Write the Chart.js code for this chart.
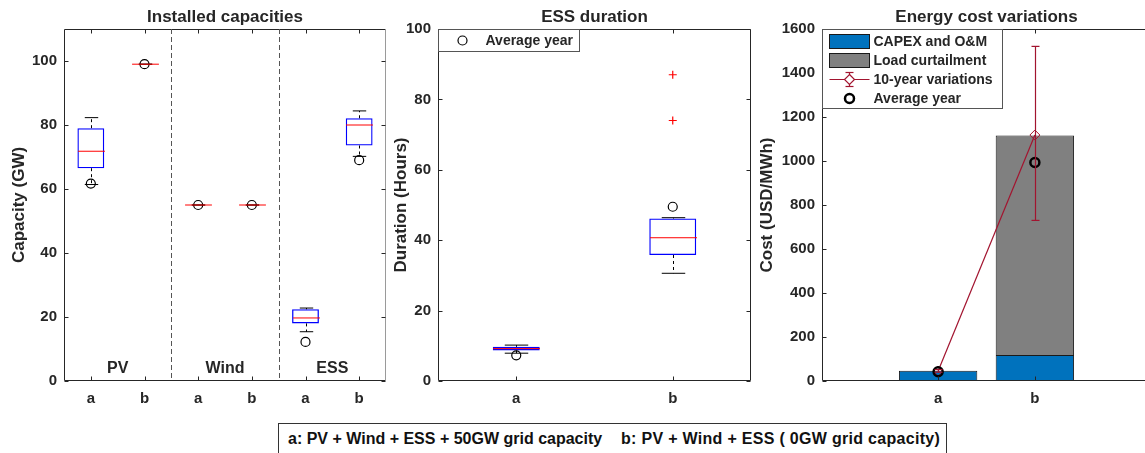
<!DOCTYPE html>
<html>
<head>
<meta charset="utf-8">
<script src="https://cdn.jsdelivr.net/npm/chart.js@4.4.0/dist/chart.umd.min.js"></script>
<style>
  html, body { margin: 0; padding: 0; background: #fff; overflow: hidden; }
  body { width: 1145px; height: 453px; position: relative; }
  canvas { position: absolute; top: 0; }
  #c1 { left: 0; }
  #c2 { left: 385px; }
  #c3 { left: 755px; }
  .note { position: absolute; left: 278px; top: 423px; width: 667px; height: 40px;
          border: 1px solid #333; font: bold 16px 'Liberation Sans', Arial, sans-serif; color: #111; }
  .note span { position: absolute; top: 6px; line-height: 18px; white-space: nowrap; }
</style>
</head>
<body>
<canvas id="c1" width="400" height="420"></canvas>
<canvas id="c2" width="380" height="420"></canvas>
<canvas id="c3" width="405" height="420"></canvas>
<div class="note"><span style="left:9px">a: PV + Wind + ESS + 50GW grid capacity</span><span style="left:342px; letter-spacing:0.3px">b: PV + Wind + ESS ( 0GW grid capacity)</span></div>
<script>
const TXT = '#262626';
const FONT = "'Liberation Sans', Arial, Helvetica, sans-serif";

// installed capacities (GW), one box per case
const capLabels = ['a', 'b', 'a', 'b', 'a', 'b'];
const capGroups = ['PV', 'Wind', 'ESS'];
const capLow = [61.4, 99, 55, 55, 15.4, 70.2];
const capQ1 = [66.5, 99, 55, 55, 18.0, 73.6];
const capMedian = [71.8, 99, 55, 55, 19.7, 80.0];
const capQ3 = [79.0, 99, 55, 55, 22.4, 82.1];
const capHigh = [82.3, 99, 55, 55, 22.8, 84.4];
const capAverage = [61.7, 99, 55, 55, 12.2, 69.0];

// ESS duration (hours)
const durLabels = ['a', 'b'];
const durLow = [7.9, 30.6];
const durQ1 = [8.7, 35.8];
const durMedian = [9.2, 40.7];
const durQ3 = [9.7, 46.2];
const durHigh = [10.2, 46.4];
const durOutliers = [[], [74, 87]];
const durAverage = [7.3, 49.5];

// energy cost (USD/MWh)
const costLabels = ['a', 'b'];
const costCapex = [47, 118];
const costCurtail = [0, 998];
const costVar = [45, 1118];
const costVarLow = [40, 730];
const costVarHigh = [52, 1521];
const costAverage = [42, 993];

Chart.defaults.font.family = FONT;
Chart.defaults.font.weight = 'bold';
Chart.defaults.font.size = 15;
Chart.defaults.color = TXT;
Chart.defaults.animation = false;
Chart.defaults.responsive = false;
Chart.defaults.plugins.legend.display = false;
Chart.defaults.plugins.tooltip.enabled = false;

function seg(ctx, x1, y1, x2, y2) {
    ctx.beginPath();
    ctx.moveTo(x1, y1);
    ctx.lineTo(x2, y2);
    ctx.stroke();
}

// value axis shared by the three panels
function yAxis(max, step, title, width, titlePad) {
    return {
        min: 0, max: max,
        grid: { display: false, drawTicks: false },
        border: { display: false },
        ticks: {
            stepSize: step, padding: 7, includeBounds: false, font: { size: 15 },
            callback: function(v) { return String(v); }
        },
        title: { display: true, text: title, font: { size: 17 }, padding: { top: titlePad, bottom: 0 } },
        afterFit: function(s) { s.width = width; }
    };
}

// box, inward ticks on all sides, title
function framePlugin(title, rightColor) {
    return {
        id: 'frame',
        afterDraw: function(chart) {
            const a = chart.chartArea, ctx = chart.ctx;
            const xs = chart.scales.x, ys = chart.scales.y;
            const l = Math.round(a.left) + 0.5, r = Math.round(a.right) - 0.5;
            const t = Math.round(a.top) + 0.5, b = Math.round(a.bottom) - 0.5;
            ctx.save();
            ctx.lineWidth = 1;
            ctx.strokeStyle = TXT;
            seg(ctx, l, t, r, t);
            seg(ctx, l, b, r, b);
            seg(ctx, l, t, l, b);
            ctx.strokeStyle = rightColor || TXT;
            seg(ctx, r, t, r, b);
            ctx.strokeStyle = TXT;
            xs.ticks.forEach(function(tk, i) {
                const px = Math.round(xs.getPixelForTick(i)) + 0.5;
                seg(ctx, px, b, px, b - 4);
                seg(ctx, px, t, px, t + 4);
            });
            ys.ticks.forEach(function(tk) {
                const py = Math.round(ys.getPixelForValue(tk.value)) + 0.5;
                seg(ctx, l, py, l + 4, py);
                seg(ctx, r, py, r - 4, py);
            });
            ctx.fillStyle = TXT;
            ctx.font = 'bold 17px ' + FONT;
            ctx.textAlign = 'center';
            ctx.textBaseline = 'middle';
            ctx.fillText(title, (a.left + a.right) / 2, 17);
            ctx.restore();
        }
    };
}

// whiskers, caps and median on top of the floating-bar boxes
function boxPlugin(low, q1, med, q3, high) {
    return {
        id: 'boxParts',
        afterDatasetsDraw: function(chart) {
            const ctx = chart.ctx, xs = chart.scales.x, ys = chart.scales.y;
            const bars = chart.getDatasetMeta(chart.data.datasets.length - 1).data;
            ctx.save();
            ctx.lineWidth = 1;
            med.forEach(function(m, i) {
                const px = Math.round(xs.getPixelForValue(i)) + 0.5;
                const half = bars[i].width / 2, cap = half / 2;
                const yLo = ys.getPixelForValue(low[i]), yHi = ys.getPixelForValue(high[i]);
                ctx.strokeStyle = '#000';
                ctx.setLineDash([3, 3]);
                seg(ctx, px, ys.getPixelForValue(q3[i]), px, yHi);
                seg(ctx, px, ys.getPixelForValue(q1[i]), px, yLo);
                ctx.setLineDash([]);
                seg(ctx, px - cap, yHi, px + cap, yHi);
                seg(ctx, px - cap, yLo, px + cap, yLo);
                ctx.strokeStyle = '#ff0000';
                const ym = ys.getPixelForValue(m);
                seg(ctx, px - half, ym, px + half, ym);
            });
            ctx.restore();
        }
    };
}

function boxes(lo, hi, pct) {
    return {
        type: 'bar',
        data: lo.map(function(v, i) { return [v, hi[i]]; }),
        backgroundColor: 'rgba(0,0,0,0)',
        borderColor: '#0000ff',
        borderWidth: 1.3,
        borderSkipped: false,
        categoryPercentage: 1,
        barPercentage: pct,
        order: 3
    };
}

function averages(values, radius, width) {
    return {
        type: 'line',
        data: values,
        showLine: false,
        pointStyle: 'circle',
        pointRadius: radius,
        pointBorderWidth: width,
        pointBorderColor: '#000',
        pointBackgroundColor: 'rgba(0,0,0,0)',
        order: 1
    };
}

// Installed capacities
new Chart(document.getElementById('c1'), {
    type: 'bar',
    data: {
        labels: capLabels,
        datasets: [averages(capAverage, 4.5, 1.2), boxes(capQ1, capQ3, 0.5)]
    },
    options: {
        layout: { padding: { left: 0, right: 14, top: 29, bottom: 0 } },
        scales: {
            x: {
                grid: { display: false, drawTicks: false },
                border: { display: false },
                ticks: { padding: 9 },
                afterFit: function(s) { s.height = 39; }
            },
            y: yAxis(110, 20, 'Capacity (GW)', 64, 9)
        }
    },
    plugins: [boxPlugin(capLow, capQ1, capMedian, capQ3, capHigh), framePlugin('Installed capacities', '#9a9a9a'), {
        id: 'groups',
        afterDraw: function(chart) {
            const ctx = chart.ctx, xs = chart.scales.x, a = chart.chartArea;
            ctx.save();
            ctx.strokeStyle = '#555';
            ctx.lineWidth = 1;
            ctx.setLineDash([5, 3]);
            [1.5, 3.5].forEach(function(v) {
                const px = Math.round(xs.getPixelForValue(v)) + 0.5;
                seg(ctx, px, a.top, px, a.bottom);
            });
            ctx.setLineDash([]);
            ctx.fillStyle = TXT;
            ctx.font = 'bold 16px ' + FONT;
            ctx.textAlign = 'center';
            ctx.textBaseline = 'middle';
            capGroups.forEach(function(g, i) {
                ctx.fillText(g, xs.getPixelForValue(i * 2 + 0.5), 369);
            });
            ctx.restore();
        }
    }]
});

// ESS duration
const outlierPts = [];
durOutliers.forEach(function(list, i) {
    list.forEach(function(v) { outlierPts.push({ x: durLabels[i], y: v }); });
});

new Chart(document.getElementById('c2'), {
    type: 'bar',
    data: {
        labels: durLabels,
        datasets: [
            averages(durAverage, 4.5, 1.2),
            {
                type: 'line',
                data: outlierPts,
                showLine: false,
                pointStyle: 'cross',
                pointRadius: 4,
                pointBorderWidth: 1.2,
                pointBorderColor: '#ff0000',
                order: 2
            },
            boxes(durQ1, durQ3, 0.3)
        ]
    },
    options: {
        layout: { padding: { left: 0, right: 14, top: 29, bottom: 0 } },
        scales: {
            x: {
                grid: { display: false, drawTicks: false },
                border: { display: false },
                ticks: { padding: 9 },
                afterFit: function(s) { s.height = 39; }
            },
            y: yAxis(100, 20, 'Duration (Hours)', 53, 6.5)
        }
    },
    plugins: [boxPlugin(durLow, durQ1, durMedian, durQ3, durHigh), framePlugin('ESS duration'), {
        id: 'key',
        afterDraw: function(chart) {
            const ctx = chart.ctx, a = chart.chartArea;
            const l = Math.round(a.left) + 0.5, t = Math.round(a.top) + 0.5;
            ctx.save();
            ctx.fillStyle = '#fff';
            ctx.fillRect(l, t, 141, 22);
            ctx.strokeStyle = '#555';
            ctx.lineWidth = 1;
            ctx.strokeRect(l, t, 141, 22);
            ctx.strokeStyle = '#000';
            ctx.lineWidth = 1.2;
            ctx.beginPath();
            ctx.arc(l + 24, t + 11, 4.5, 0, Math.PI * 2);
            ctx.stroke();
            ctx.fillStyle = TXT;
            ctx.font = 'bold 14px ' + FONT;
            ctx.textBaseline = 'middle';
            ctx.fillText('Average year', l + 47, t + 12);
            ctx.restore();
        }
    }]
});

// Energy cost variations
const RED = '#a2142f';

new Chart(document.getElementById('c3'), {
    type: 'bar',
    data: {
        datasets: [
            {
                type: 'line',
                data: costAverage.map(function(v, i) { return { x: i + 1, y: v }; }),
                showLine: false,
                pointStyle: 'circle',
                pointRadius: 4.5,
                pointBorderWidth: 2.5,
                pointBorderColor: '#000',
                pointBackgroundColor: 'rgba(0,0,0,0)',
                order: 1
            },
            {
                type: 'line',
                data: costVar.map(function(v, i) { return { x: i + 1, y: v }; }),
                borderColor: RED,
                borderWidth: 1.2,
                pointStyle: 'rectRot',
                pointRadius: 5,
                pointBorderWidth: 1,
                pointBorderColor: RED,
                pointBackgroundColor: 'rgba(0,0,0,0)',
                order: 2
            },
            {
                label: 'CAPEX and O&M',
                data: costCapex.map(function(v, i) { return { x: i + 1, y: v }; }),
                backgroundColor: '#0072bd',
                borderColor: '#1a1a1a',
                borderWidth: 1,
                borderSkipped: false,
                categoryPercentage: 1,
                barPercentage: 0.81,
                order: 3
            },
            {
                label: 'Load curtailment',
                data: costCurtail.map(function(v, i) { return { x: i + 1, y: [costCapex[i], costCapex[i] + v] }; }),
                backgroundColor: '#808080',
                borderColor: '#1a1a1a',
                borderWidth: 1,
                borderSkipped: 'bottom',
                categoryPercentage: 1,
                barPercentage: 0.81,
                order: 3
            }
        ]
    },
    options: {
        layout: { padding: { left: 0, right: 9, top: 29, bottom: 0 } },
        scales: {
            x: {
                type: 'linear',
                min: -0.2, max: 3.2,
                offset: false,
                stacked: true,
                grid: { display: false, drawTicks: false },
                border: { display: false },
                ticks: {
                    padding: 9,
                    callback: function(v) { return costLabels[v - 1] || ''; }
                },
                afterBuildTicks: function(s) {
                    s.ticks = costLabels.map(function(l, i) { return { value: i + 1 }; });
                },
                afterFit: function(s) { s.height = 39; }
            },
            y: yAxis(1600, 200, 'Cost (USD/MWh)', 67, 1.8)
        }
    },
    plugins: [{
        id: 'errorBars',
        afterDatasetsDraw: function(chart) {
            const ctx = chart.ctx, xs = chart.scales.x, ys = chart.scales.y;
            ctx.save();
            ctx.strokeStyle = RED;
            ctx.lineWidth = 1.2;
            costVar.forEach(function(v, i) {
                const px = Math.round(xs.getPixelForValue(i + 1)) + 0.5;
                const lo = ys.getPixelForValue(costVarLow[i]), hi = ys.getPixelForValue(costVarHigh[i]);
                seg(ctx, px, lo, px, hi);
                seg(ctx, px - 4, lo, px + 4, lo);
                seg(ctx, px - 4, hi, px + 4, hi);
            });
            ctx.restore();
        }
    }, framePlugin('Energy cost variations'), {
        id: 'key',
        afterDraw: function(chart) {
            const ctx = chart.ctx, a = chart.chartArea;
            const l = Math.round(a.left) + 0.5, t = Math.round(a.top) + 0.5;
            ctx.save();
            ctx.fillStyle = '#fff';
            ctx.fillRect(l, t, 180, 79);
            ctx.strokeStyle = '#555';
            ctx.lineWidth = 1;
            ctx.strokeRect(l, t, 180, 79);
            // patches
            ctx.strokeStyle = '#1a1a1a';
            ctx.fillStyle = '#0072bd';
            ctx.fillRect(l + 7, t + 5, 40, 14);
            ctx.strokeRect(l + 7, t + 5, 40, 14);
            ctx.fillStyle = '#808080';
            ctx.fillRect(l + 7, t + 24, 40, 14);
            ctx.strokeRect(l + 7, t + 24, 40, 14);
            // line with error bar and diamond
            const cx = l + 27, cy = t + 50;
            ctx.strokeStyle = RED;
            ctx.lineWidth = 1.2;
            seg(ctx, l + 7, cy, l + 47, cy);
            seg(ctx, cx, cy - 7, cx, cy + 7);
            seg(ctx, cx - 4, cy - 7, cx + 4, cy - 7);
            seg(ctx, cx - 4, cy + 7, cx + 4, cy + 7);
            ctx.fillStyle = '#fff';
            ctx.beginPath();
            ctx.moveTo(cx, cy - 5); ctx.lineTo(cx + 5, cy); ctx.lineTo(cx, cy + 5); ctx.lineTo(cx - 5, cy); ctx.closePath();
            ctx.fill();
            ctx.stroke();
            // average marker
            ctx.strokeStyle = '#000';
            ctx.lineWidth = 2.5;
            ctx.beginPath();
            ctx.arc(cx, t + 69, 4.5, 0, Math.PI * 2);
            ctx.stroke();
            ctx.fillStyle = TXT;
            ctx.font = 'bold 14px ' + FONT;
            ctx.textBaseline = 'middle';
            ['CAPEX and O&M', 'Load curtailment', '10-year variations', 'Average year'].forEach(function(s, i) {
                ctx.fillText(s, l + 51, t + 12.5 + i * 19);
            });
            ctx.restore();
        }
    }]
});
</script>
</body>
</html>
